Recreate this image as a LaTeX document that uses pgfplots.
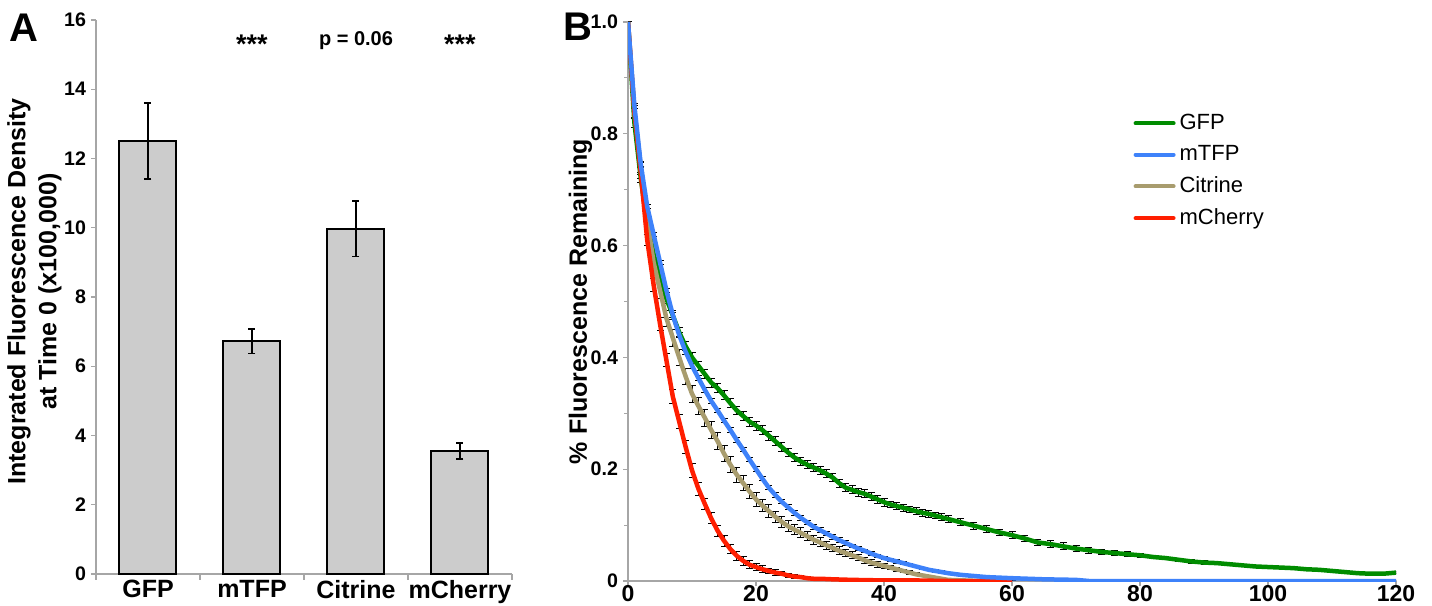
\documentclass[border=0pt]{standalone}
\usepackage{pgfplots}
\pgfplotsset{compat=1.18}
\usepackage{pgfplotstable}
\usepackage{fontspec}
\setmainfont{Liberation Sans}

\definecolor{gfpgreen}{RGB}{0,140,0}
\definecolor{tfpblue}{RGB}{62,130,250}
\definecolor{citrine}{RGB}{168,156,110}
\definecolor{cherry}{RGB}{255,30,0}
\definecolor{barfill}{RGB}{204,204,204}

% decay curves: t, fraction remaining, error
\pgfplotstableread{
t v e
0 1.00 0
1 0.84 0.010
2 0.73 0.010
3 0.61 0.010
4 0.53 0.012
5 0.46 0.012
6 0.395 0.012
7 0.33 0.012
8 0.285 0.012
9 0.24 0.012
10 0.198 0.012
11 0.165 0.012
12 0.138 0.010
13 0.112 0.010
14 0.09 0.010
15 0.072 0.010
16 0.057 0.008
17 0.045 0.008
18 0.036 0.008
19 0.029 0.007
20 0.025 0.006
21 0.021 0.006
22 0.018 0.005
23 0.015 0.005
24 0.013 0.004
25 0.010 0.004
26 0.008 0.003
27 0.007 0.003
28 0.005 0.003
29 0.004 0.002
30 0.004 0.002
32 0.003 0.001
35 0.002 0.001
40 0.001 0
45 0.001 0
50 0 0
60 0 0
}\cherrytab

\pgfplotstableread{
t v e
0 1.00 0
1 0.84 0.010
2 0.74 0.010
3 0.645 0.012
4 0.57 0.012
5 0.52 0.014
6 0.47 0.014
7 0.435 0.015
8 0.40 0.015
9 0.366 0.015
10 0.335 0.015
11 0.313 0.015
12 0.292 0.015
13 0.27 0.015
14 0.25 0.015
15 0.228 0.014
16 0.208 0.014
17 0.19 0.013
18 0.175 0.013
19 0.16 0.012
20 0.146 0.012
21 0.135 0.011
22 0.125 0.011
23 0.115 0.010
24 0.106 0.010
25 0.098 0.010
26 0.092 0.009
27 0.086 0.009
28 0.08 0.008
29 0.074 0.008
30 0.069 0.008
31 0.064 0.007
32 0.059 0.007
33 0.054 0.007
34 0.05 0.006
35 0.046 0.006
36 0.042 0.006
37 0.037 0.005
38 0.033 0.005
39 0.03 0.005
40 0.027 0.004
41 0.024 0.004
42 0.021 0.004
43 0.018 0.003
44 0.015 0.003
45 0.012 0.003
46 0.01 0.002
47 0.008 0.002
48 0.006 0.002
49 0.004 0.001
50 0.002 0.001
55 0 0
}\citrinetab

\pgfplotstableread{
t v e
0 1.00 0
1 0.85 0.004
2 0.745 0.004
3 0.67 0.004
4 0.62 0.004
5 0.57 0.004
6 0.52 0.004
7 0.476 0.004
8 0.44 0.004
9 0.41 0.004
10 0.385 0.004
11 0.363 0.004
12 0.342 0.004
13 0.322 0.004
14 0.305 0.004
15 0.287 0.004
16 0.27 0.004
17 0.252 0.004
18 0.235 0.004
19 0.217 0.004
20 0.2 0.004
21 0.183 0.004
22 0.167 0.004
23 0.154 0.004
24 0.142 0.004
25 0.132 0.004
26 0.122 0.004
27 0.113 0.004
28 0.105 0.004
29 0.097 0.004
30 0.091 0.004
31 0.085 0.004
32 0.079 0.004
33 0.073 0.004
34 0.068 0.004
35 0.063 0.003
36 0.058 0.003
37 0.054 0.003
38 0.049 0.003
39 0.045 0.003
40 0.041 0.003
41 0.038 0.003
42 0.035 0.003
43 0.032 0.003
44 0.029 0.002
45 0.026 0.002
46 0.023 0.002
47 0.02 0.002
48 0.018 0.002
49 0.016 0.002
50 0.014 0.002
52 0.011 0.001
54 0.009 0.001
56 0.007 0.001
58 0.006 0.001
60 0.005 0.001
65 0.003 0
70 0.002 0
72 0 0
120 0 0
}\tfptab

\pgfplotstableread{
t v e
0 1.00 0
1 0.82 0.008
2 0.72 0.008
3 0.64 0.008
4 0.585 0.008
5 0.54 0.008
6 0.505 0.008
7 0.475 0.008
8 0.445 0.008
9 0.42 0.008
10 0.40 0.008
11 0.385 0.008
12 0.37 0.008
13 0.355 0.008
14 0.345 0.008
15 0.332 0.008
16 0.318 0.008
17 0.305 0.008
18 0.295 0.008
19 0.285 0.008
20 0.278 0.008
21 0.27 0.008
22 0.26 0.008
23 0.25 0.008
24 0.24 0.008
25 0.23 0.007
26 0.221 0.007
27 0.214 0.007
28 0.208 0.007
29 0.203 0.007
30 0.198 0.007
31 0.192 0.007
32 0.185 0.007
33 0.175 0.007
34 0.167 0.007
35 0.163 0.007
36 0.159 0.007
37 0.156 0.007
38 0.151 0.007
39 0.146 0.007
40 0.141 0.007
41 0.137 0.006
42 0.134 0.006
43 0.131 0.006
44 0.128 0.006
45 0.125 0.006
46 0.122 0.006
47 0.12 0.006
48 0.117 0.006
49 0.114 0.006
50 0.111 0.006
52 0.105 0.006
54 0.099 0.006
56 0.093 0.006
58 0.087 0.006
60 0.082 0.006
62 0.076 0.006
64 0.069 0.006
66 0.066 0.006
68 0.062 0.006
70 0.058 0.005
72 0.055 0.005
74 0.052 0.005
76 0.05 0.005
78 0.048 0.004
80 0.046 0.004
82 0.043 0.003
84 0.041 0.003
86 0.038 0.003
88 0.035 0.003
90 0.033 0.003
92 0.032 0.003
94 0.030 0.003
96 0.028 0.002
98 0.026 0.002
100 0.025 0.002
102 0.024 0.002
104 0.023 0.002
106 0.021 0.002
108 0.02 0.002
110 0.018 0.002
112 0.016 0.002
114 0.014 0.002
116 0.013 0.002
118 0.013 0.002
120 0.015 0.002
}\gfptab

\pgfplotsset{
  errbar/.style={forget plot, draw=none, mark=none,
    error bars/.cd, y dir=both, y explicit,
    error bar style={draw=black, solid, line width=0.5pt},
    error mark options={draw=black, rotate=90, mark size=1.75pt, line width=0.5pt}},
  curve/.style={forget plot, line width=2.25pt, mark=none, line join=round},
}

\begin{document}
\begin{tikzpicture}
\path[use as bounding box] (0,0) rectangle (716pt,303pt);

\node[font=\fontsize{20}{20}\selectfont\bfseries] at (12pt,289pt) {A};
\node[font=\fontsize{20}{20}\selectfont\bfseries] at (289pt,289.5pt) {B};

% Panel A: intensity at time 0
\begin{axis}[
  at={(48pt,16pt)}, anchor=south west,
  scale only axis, width=208pt, height=277pt,
  xmin=-0.5, xmax=3.5, ymin=0, ymax=16,
  axis lines*=left,
  axis line style={draw=gray!70, line width=0.8pt},
  xtick={0,1,2,3},
  xticklabels={GFP,mTFP,Citrine,mCherry},
  minor xtick={-0.5,0.5,1.5,2.5,3.5},
  major x tick style={draw=none},
  minor x tick style={draw=gray!70, line width=0.6pt},
  minor tick length=3pt,
  ytick={0,2,...,16},
  y tick style={draw=gray!70, line width=0.6pt},
  tick align=outside, major tick length=2.5pt,
  /pgf/number format/assume math mode=true,
  xticklabel style={font=\fontsize{12.5}{14}\selectfont\bfseries, yshift=3pt},
  yticklabel style={font=\fontsize{9.8}{11}\selectfont\bfseries, xshift=1pt},
  ylabel={Integrated Fluorescence Density\\at Time 0 (x100,000)},
  ylabel style={font=\fontsize{12.5}{15.5}\selectfont\bfseries, align=center,
    at={(axis description cs:-0.148,0.51)}, anchor=center},
  clip=false,
]
\addplot[ybar, bar width=28.5pt, fill=barfill, draw=black, line width=1pt,
  error bars/.cd, y dir=both, y explicit,
  error bar style={draw=black, line width=0.8pt},
  error mark options={draw=black, rotate=90, mark size=1.75pt, line width=0.8pt}]
  coordinates {
    (0,12.5) +- (0,1.1)
    (1,6.72) +- (0,0.35)
    (2,9.97) +- (0,0.8)
    (3,3.55) +- (0,0.23)
  };
\node[font=\fontsize{13.5}{14}\selectfont\bfseries] at (axis cs:1,15.3) {***};
\node[font=\fontsize{10}{12}\selectfont\bfseries] at (axis cs:2,15.4) {p = 0.06};
\node[font=\fontsize{13.5}{14}\selectfont\bfseries] at (axis cs:3,15.3) {***};
\end{axis}

% Panel B: photobleaching curves
\begin{axis}[
  at={(314pt,12.5pt)}, anchor=south west,
  scale only axis, width=384pt, height=279.5pt,
  xmin=0, xmax=120, ymin=0, ymax=1,
  axis lines*=left,
  axis line style={draw=gray!70, line width=0.8pt},
  xtick={0,20,...,120},
  ytick={0,0.2,0.4,0.6,0.8,1.0},
  yticklabels={0,0.2,0.4,0.6,0.8,1.0},
  minor ytick={0.1,0.3,0.5,0.7,0.9},
  tick style={draw=gray!70, line width=0.6pt},
  tick align=outside, major tick length=2.5pt, minor tick length=2pt,
  /pgf/number format/assume math mode=true,
  xticklabel style={font=\fontsize{11.5}{13}\selectfont\bfseries, yshift=4pt},
  yticklabel style={font=\fontsize{9.8}{11}\selectfont\bfseries, xshift=1pt},
  ylabel={\% Fluorescence Remaining},
  ylabel style={font=\fontsize{12.5}{14}\selectfont\bfseries,
    at={(axis description cs:-0.062,0.5)}, anchor=center},
  legend style={at={(axis description cs:0.65,0.85)}, anchor=north west,
    draw=none, fill=none, font=\fontsize{11}{12}\selectfont,
    row sep=2.5pt, cells={anchor=west}},
  legend cell align=left,
  legend image code/.code={\draw[line width=2pt, line cap=round] (0pt,0pt) -- (19pt,0pt);},
]
\addplot[errbar] table[x=t, y=v, y error=e] {\gfptab};
\addplot[errbar] table[x=t, y=v, y error=e] {\citrinetab};
\addplot[errbar] table[x=t, y=v, y error=e] {\cherrytab};
\addplot[errbar] table[x=t, y=v, y error=e] {\tfptab};
\addplot[curve, gfpgreen] table[x=t, y=v] {\gfptab};
\addplot[curve, citrine] table[x=t, y=v] {\citrinetab};
\addplot[curve, cherry] table[x=t, y=v] {\cherrytab};
\addplot[curve, tfpblue] table[x=t, y=v] {\tfptab};
\addlegendimage{gfpgreen}
\addlegendentry{GFP}
\addlegendimage{tfpblue}
\addlegendentry{mTFP}
\addlegendimage{citrine}
\addlegendentry{Citrine}
\addlegendimage{cherry}
\addlegendentry{mCherry}
\end{axis}
\end{tikzpicture}
\end{document}
